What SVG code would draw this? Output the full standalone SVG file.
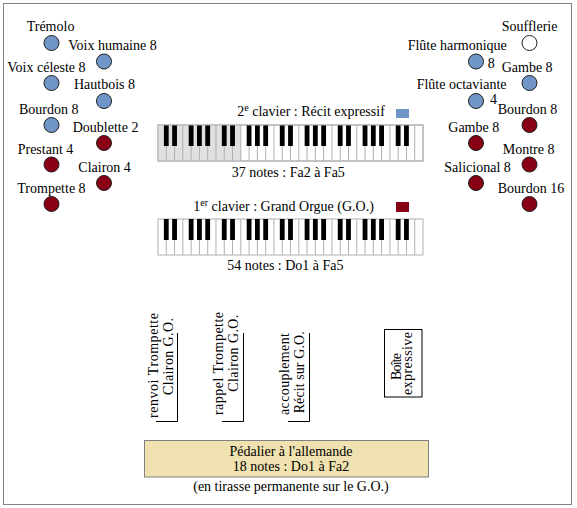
<svg xmlns="http://www.w3.org/2000/svg" xmlns:xlink="http://www.w3.org/1999/xlink" width="577" height="508" viewBox="0 0 577 508">
<style>
.t{font-family:"Liberation Serif","Times New Roman",serif;font-size:14px;fill:#000}
.blue{fill:#7096C8;stroke:#1e1e1e;stroke-width:1}
.red{fill:#880015;stroke:#1e1e1e;stroke-width:1}
.wht{fill:#fff;stroke:#1e1e1e;stroke-width:1}
.rule{fill:none;stroke:#000;stroke-width:1}
</style>
<defs>
<path id="kb-lines" fill="none" stroke="#b0b0b0" stroke-width="1" d="M8.28 0V36M16.56 0V36M24.84 0V36M33.13 0V36M41.41 0V36M49.69 0V36M57.97 0V36M66.25 0V36M74.53 0V36M82.81 0V36M91.09 0V36M99.38 0V36M107.66 0V36M115.94 0V36M124.22 0V36M132.5 0V36M140.78 0V36M149.06 0V36M157.34 0V36M165.63 0V36M173.91 0V36M182.19 0V36M190.47 0V36M198.75 0V36M207.03 0V36M215.31 0V36M223.59 0V36M231.88 0V36M240.16 0V36M248.44 0V36M256.72 0V36"/>
<g id="kb-blacks" fill="#000">
<rect x="5.88" y="0" width="4.8" height="21"/><rect x="14.16" y="0" width="4.8" height="21"/>
<rect x="30.73" y="0" width="4.8" height="21"/><rect x="39.01" y="0" width="4.8" height="21"/><rect x="47.29" y="0" width="4.8" height="21"/>
<rect x="63.85" y="0" width="4.8" height="21"/><rect x="72.13" y="0" width="4.8" height="21"/>
<rect x="88.69" y="0" width="4.8" height="21"/><rect x="96.98" y="0" width="4.8" height="21"/><rect x="105.26" y="0" width="4.8" height="21"/>
<rect x="121.82" y="0" width="4.8" height="21"/><rect x="130.1" y="0" width="4.8" height="21"/>
<rect x="146.66" y="0" width="4.8" height="21"/><rect x="154.94" y="0" width="4.8" height="21"/><rect x="163.23" y="0" width="4.8" height="21"/>
<rect x="179.79" y="0" width="4.8" height="21"/><rect x="188.07" y="0" width="4.8" height="21"/>
<rect x="204.63" y="0" width="4.8" height="21"/><rect x="212.91" y="0" width="4.8" height="21"/><rect x="221.19" y="0" width="4.8" height="21"/>
<rect x="237.76" y="0" width="4.8" height="21"/><rect x="246.04" y="0" width="4.8" height="21"/>
</g>
</defs>

<rect id="frame" x="3.5" y="3.5" width="568" height="501" fill="#fff" stroke="#808080" stroke-width="1"/>

<g id="connectors"/>

<!-- Left column stops -->
<g id="stop-tremolo"><text class="t" x="26.7" y="30.5">Trémolo</text><circle class="blue" cx="51.5" cy="43" r="7.5"/></g>
<g id="stop-voix-humaine"><text class="t" x="68.3" y="49.5">Voix humaine 8</text><circle class="blue" cx="104" cy="61.5" r="7.5"/></g>
<g id="stop-voix-celeste"><text class="t" x="7.3" y="72">Voix céleste 8</text><circle class="blue" cx="51.5" cy="83" r="7.5"/></g>
<g id="stop-hautbois"><text class="t" x="74" y="89">Hautbois 8</text><circle class="blue" cx="104" cy="101" r="7.5"/></g>
<g id="stop-bourdon8-recit"><text class="t" x="19" y="113.5">Bourdon 8</text><circle class="blue" cx="51.5" cy="125" r="7.5"/></g>
<g id="stop-doublette"><text class="t" x="72.7" y="131.5">Doublette 2</text><circle class="red" cx="104" cy="143" r="7.5"/></g>
<g id="stop-prestant"><text class="t" x="17.7" y="154">Prestant 4</text><circle class="red" cx="51.5" cy="164.5" r="7.5"/></g>
<g id="stop-clairon"><text class="t" x="78.3" y="171.5">Clairon 4</text><circle class="red" cx="104" cy="183" r="7.5"/></g>
<g id="stop-trompette"><text class="t" x="17.3" y="192.5">Trompette 8</text><circle class="red" cx="51.5" cy="204" r="7.5"/></g>

<!-- Right column stops -->
<g id="stop-soufflerie"><text class="t" x="501.7" y="30.5">Soufflerie</text><circle class="wht" cx="529.5" cy="43" r="7.5"/></g>
<g id="stop-flute-harmonique"><text class="t" x="407.7" y="49.5">Flûte harmonique</text><text class="t" x="487.7" y="68">8</text><circle class="blue" cx="476" cy="61.5" r="7.5"/></g>
<g id="stop-gambe-recit"><text class="t" x="501.7" y="72">Gambe 8</text><circle class="blue" cx="529.5" cy="83" r="7.5"/></g>
<g id="stop-flute-octaviante"><text class="t" x="416.7" y="89">Flûte octaviante</text><text class="t" x="490" y="103.5">4</text><circle class="blue" cx="476" cy="101" r="7.5"/></g>
<g id="stop-bourdon8-go"><text class="t" x="497.7" y="113.5">Bourdon 8</text><circle class="red" cx="529.5" cy="125" r="7.5"/></g>
<g id="stop-gambe-go"><text class="t" x="448.3" y="131.5">Gambe 8</text><circle class="red" cx="476" cy="143" r="7.5"/></g>
<g id="stop-montre"><text class="t" x="502.7" y="154">Montre 8</text><circle class="red" cx="529.5" cy="164.5" r="7.5"/></g>
<g id="stop-salicional"><text class="t" x="444.3" y="171.5">Salicional 8</text><circle class="red" cx="476" cy="183" r="7.5"/></g>
<g id="stop-bourdon16"><text class="t" x="497.7" y="192.5">Bourdon 16</text><circle class="red" cx="529.5" cy="204" r="7.5"/></g>

<!-- 2e clavier -->
<g id="clavier-recit">
<text class="t" x="237.3" y="115.5">2<tspan font-size="10" dy="-5">e</tspan><tspan dy="5"> clavier : Récit expressif</tspan></text>
<rect x="396" y="109" width="13" height="9" fill="#7096C8"/>
<g transform="translate(158,125)">
<rect x="0" y="0" width="265" height="36" fill="#fff" stroke="#b0b0b0"/>
<rect x="0" y="0" width="82.81" height="36" fill="#e0e0e0"/>
<use xlink:href="#kb-lines" href="#kb-lines"/>
<use xlink:href="#kb-blacks" href="#kb-blacks"/>
<rect x="0" y="0" width="265" height="36" fill="none" stroke="#b0b0b0"/>
</g>
<text class="t" x="231.7" y="176.5">37 notes : Fa2 à Fa5</text>
</g>

<!-- 1er clavier -->
<g id="clavier-go">
<text class="t" x="193.3" y="210.5">1<tspan font-size="10" dy="-5">er</tspan><tspan dy="5"> clavier : Grand Orgue (G.O.)</tspan></text>
<rect x="396" y="202" width="13" height="10" fill="#880015"/>
<g transform="translate(158,219)">
<rect x="0" y="0" width="265" height="36" fill="#fff" stroke="#b0b0b0"/>
<use xlink:href="#kb-lines" href="#kb-lines"/>
<use xlink:href="#kb-blacks" href="#kb-blacks"/>
</g>
<text class="t" x="227.3" y="270">54 notes : Do1 à Fa5</text>
</g>

<!-- pédales de combinaison -->
<g id="renvoi">
<text class="t" font-size="14.5" transform="translate(158,418) rotate(-90)" textLength="105" lengthAdjust="spacing">renvoi Trompette</text>
<text class="t" font-size="14.5" transform="translate(173,395) rotate(-90)" textLength="77" lengthAdjust="spacing">Clairon G.O.</text>
<path class="rule" d="M156 421.5H177.5V333"/>
</g>
<g id="rappel">
<text class="t" font-size="14.5" transform="translate(223,415) rotate(-90)" textLength="103" lengthAdjust="spacing">rappel Trompette</text>
<text class="t" font-size="14.5" transform="translate(238,391.7) rotate(-90)" textLength="77" lengthAdjust="spacing">Clairon G.O.</text>
<path class="rule" d="M222 421.5H243.5V333"/>
</g>
<g id="accouplement">
<text class="t" font-size="14.5" transform="translate(289,415) rotate(-90)" textLength="82" lengthAdjust="spacing">accouplement</text>
<text class="t" font-size="14.5" transform="translate(303.5,413.3) rotate(-90)" textLength="82" lengthAdjust="spacing">Récit sur G.O.</text>
<path class="rule" d="M288 421.5H309.5V333"/>
</g>
<g id="boite-expressive">
<rect x="384.5" y="329.5" width="37.5" height="67.5" fill="none" stroke="#000"/>
<text class="t" font-size="14" transform="translate(400.5,380) rotate(-90)" textLength="27" lengthAdjust="spacing">Boîte</text>
<text class="t" font-size="12" transform="translate(411.5,395) rotate(-90)" textLength="63" lengthAdjust="spacing">expressive</text>
</g>

<!-- pédalier -->
<g id="pedalier">
<rect x="144.5" y="440.5" width="284" height="36.5" fill="#EFE2B0" stroke="#808080"/>
<text class="t" x="291" y="456" text-anchor="middle">Pédalier à l'allemande</text>
<text class="t" x="291" y="471" text-anchor="middle">18 notes : Do1 à Fa2</text>
<text class="t" x="291" y="491" text-anchor="middle">(en tirasse permanente sur le G.O.)</text>
</g>
</svg>
